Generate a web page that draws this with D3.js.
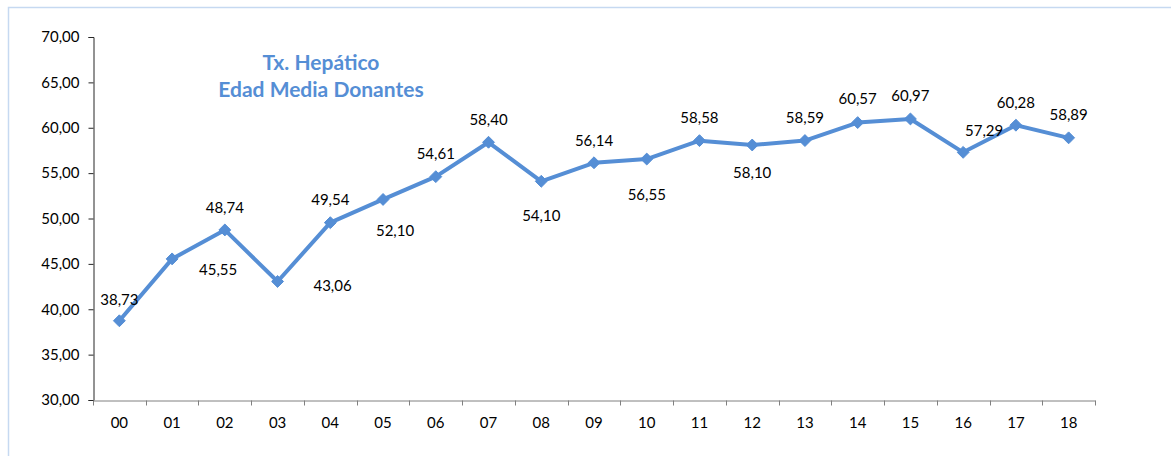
<!DOCTYPE html>
<html><head><meta charset="utf-8">
<script src="https://cdn.jsdelivr.net/npm/d3@7/dist/d3.min.js"></script>
<style>
html,body{margin:0;padding:0;background:#fff;}
svg{display:block;}
text{font-family:Lato,"Open Sans",sans-serif;}
</style></head>
<body>
<svg id="chart" width="1171" height="456"></svg>
<script>
const categories = ["00","01","02","03","04","05","06","07","08","09","10","11","12","13","14","15","16","17","18"];
const values = [38.73,45.55,48.74,43.06,49.54,52.10,54.61,58.40,54.10,56.14,56.55,58.58,58.10,58.59,60.57,60.97,57.29,60.28,58.89];
const yTicks = [30,35,40,45,50,55,60,65,70];
const titleLines = ["Tx. Hepático","Edad Media Donantes"];
// label placement offsets (px) relative to each point
const labelDx = [0,46,0,55,0,12,0,0,0,0,0,0,0,0,0,0,21,0,0];
const labelDy = [-22,10,-23,4,-24,31,-24,-23,34,-23,35,-24,27,-24,-25,-24,-22,-23,-24];

const svg = d3.select("#chart");
const blue = "#558ED5";
const fmt = v => d3.format(".2f")(v).replace(".", ",");

// outer frame (only top & left visible)
svg.append("rect").attr("x",8.5).attr("y",7.5).attr("width",1300).attr("height",600)
  .attr("fill","none").attr("stroke","#C6D9F1").attr("stroke-width",1.5);

const x = d3.scaleBand().domain(categories).range([93,1095]).padding(0);
const y = d3.scaleLinear().domain([30,70]).range([400,37]);

// y axis
const yAxis = svg.append("g").attr("transform","translate(93.5,0)")
  .call(d3.axisLeft(y).tickValues(yTicks).tickFormat(fmt).tickSizeOuter(0).tickSize(5).tickPadding(9));
yAxis.select(".domain").attr("stroke","#262626");
yAxis.selectAll(".tick line").attr("stroke","#262626");
yAxis.selectAll("text").attr("font-size",15).attr("fill","#000").attr("font-family","Lato");

// x axis
const xAxis = svg.append("g").attr("transform","translate(0,400.5)")
  .call(d3.axisBottom(x).tickSize(0).tickPadding(17));
xAxis.select(".domain").attr("stroke","#808080");
xAxis.selectAll("text").attr("font-size",15).attr("fill","#000").attr("font-family","Lato");
// boundary ticks between categories
const bounds = categories.map(c => x(c)).concat([x(categories[categories.length-1]) + x.bandwidth()]);
xAxis.selectAll(".bt").data(bounds).join("line").attr("class","bt")
  .attr("x1",d=>Math.round(d)+0.5).attr("x2",d=>Math.round(d)+0.5)
  .attr("y1",0).attr("y2",5).attr("stroke","#808080");

// title
svg.append("text").attr("x",321).attr("y",61).attr("text-anchor","middle").attr("dominant-baseline","central")
  .attr("font-size",21).attr("font-weight","bold").attr("fill",blue).text(titleLines[0]);
svg.append("text").attr("x",321).attr("y",88).attr("text-anchor","middle").attr("dominant-baseline","central")
  .attr("font-size",21).attr("font-weight","bold").attr("fill",blue).text(titleLines[1]);

const cx = c => x(c) + x.bandwidth()/2;
const pts = categories.map((c,i)=>({c, v: values[i], i}));

// line
svg.append("path").datum(pts)
  .attr("d", d3.line().x(d=>cx(d.c)).y(d=>y(d.v)))
  .attr("fill","none").attr("stroke",blue).attr("stroke-width",4).attr("stroke-linejoin","round");

// markers
svg.selectAll(".mk").data(pts).join("path").attr("class","mk")
  .attr("transform",d=>`translate(${cx(d.c)},${y(d.v)})`)
  .attr("d", d3.symbol().type(d3.symbolDiamond2).size(90))
  .attr("fill",blue).attr("stroke",blue).attr("stroke-width",1);

// labels
svg.selectAll(".lb").data(pts).join("text").attr("class","lb")
  .attr("x",d=>cx(d.c)+labelDx[d.i]).attr("y",d=>y(d.v)+labelDy[d.i])
  .attr("text-anchor","middle").attr("dominant-baseline","central")
  .attr("font-size",15).attr("fill","#000").text(d=>fmt(d.v));
</script>
</body></html>
